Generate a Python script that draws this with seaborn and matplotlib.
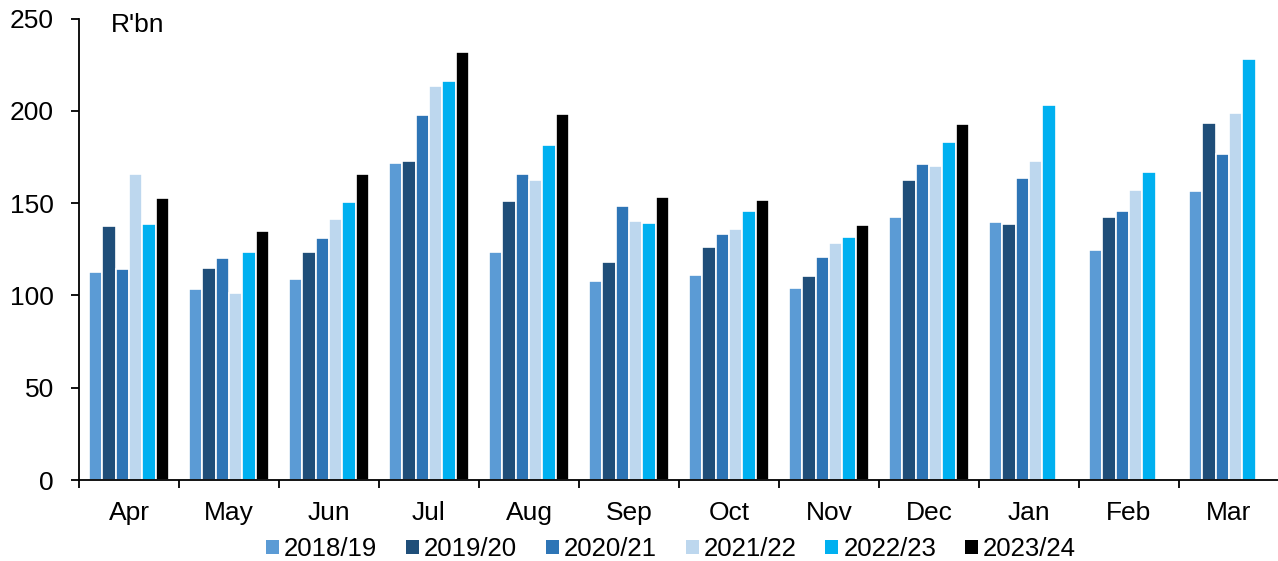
import numpy as np
import pandas as pd
import matplotlib
matplotlib.use("Agg")
import matplotlib.pyplot as plt
from matplotlib.patches import Patch
from matplotlib.ticker import FixedLocator
import seaborn as sns

months = ["Apr", "May", "Jun", "Jul", "Aug", "Sep", "Oct", "Nov", "Dec", "Jan", "Feb", "Mar"]
years = ["2018/19", "2019/20", "2020/21", "2021/22", "2022/23", "2023/24"]

fy2018 = [112.8, 103.5, 108.9, 171.5, 123.3, 107.8, 110.9, 104.0, 142.3, 139.6, 124.4, 156.4]
fy2019 = [137.4, 114.7, 123.7, 172.8, 151.0, 118.3, 126.0, 110.7, 162.5, 138.9, 142.3, 193.2]
fy2020 = [114.1, 120.4, 130.9, 197.6, 165.8, 148.6, 133.1, 120.6, 171.3, 163.6, 145.5, 176.8]
fy2021 = [165.9, 101.1, 141.2, 213.3, 162.3, 140.3, 136.0, 128.2, 170.1, 173.0, 157.3, 198.7]
fy2022 = [138.5, 123.5, 150.4, 216.0, 181.3, 139.2, 145.7, 131.8, 183.3, 203.3, 167.0, 228.1]
fy2023 = [152.6, 135.1, 165.9, 231.7, 198.1, 153.3, 151.5, 138.0, 192.7, np.nan, np.nan, np.nan]

colors = ["#5B9BD5", "#1F4E79", "#2E75B6", "#BDD7EE", "#00B0F0", "#000000"]

series = [fy2018, fy2019, fy2020, fy2021, fy2022, fy2023]
df = pd.DataFrame(
    [(m, y, v) for y, vals in zip(years, series) for m, v in zip(months, vals)],
    columns=["month", "year", "value"],
)

sns.set_style("white")
plt.rcParams["font.family"] = ["Liberation Sans", "DejaVu Sans"]
plt.rcParams["text.color"] = "black"
plt.rcParams["xtick.color"] = "black"
plt.rcParams["ytick.color"] = "black"
plt.rcParams["axes.labelcolor"] = "black"

fig = plt.figure(figsize=(12.78, 5.61), dpi=100)
ax = fig.add_axes([79 / 1278, 1 - 480 / 561, 1200 / 1278, (480 - 18.5) / 561])

sns.barplot(
    data=df, x="month", y="value", hue="year",
    order=months, hue_order=years, palette=colors, saturation=1,
    width=0.8, edgecolor="white", linewidth=1.2,
    legend=False, ax=ax, errorbar=None,
)

ax.set_xlim(-0.5, 11.5)
ax.set_ylim(0, 250)
ax.set_yticks([0, 50, 100, 150, 200, 250])
ax.set_xlabel("")
ax.set_ylabel("")

for side in ["top", "right"]:
    ax.spines[side].set_visible(False)
for side in ["left", "bottom"]:
    ax.spines[side].set_color("black")
    ax.spines[side].set_linewidth(1.3)

ax.tick_params(axis="y", which="major", direction="out", length=6, width=1.3,
               labelsize=19, pad=12, left=True)
ax.tick_params(axis="x", which="major", length=0, labelsize=19, pad=15)
ax.xaxis.set_minor_locator(FixedLocator(np.arange(-0.5, 12, 1.0)))
ax.tick_params(axis="x", which="minor", direction="out", length=6, width=1.3,
               bottom=True)

ax.text(0.0267, 242.5, "R'bn", transform=ax.get_yaxis_transform(), fontsize=19,
        ha="left", va="baseline", clip_on=False)

handles = [Patch(facecolor=c, edgecolor="none") for c in colors]
fig.legend(handles, years, loc="center", bbox_to_anchor=(671 / 1278, 1 - 549 / 561),
           ncol=6, frameon=False, fontsize=18.5, handlelength=0.5, handleheight=0.48,
           handletextpad=0.2, columnspacing=1.12, borderaxespad=0, borderpad=0)

fig.savefig("out.png", dpi=100)
